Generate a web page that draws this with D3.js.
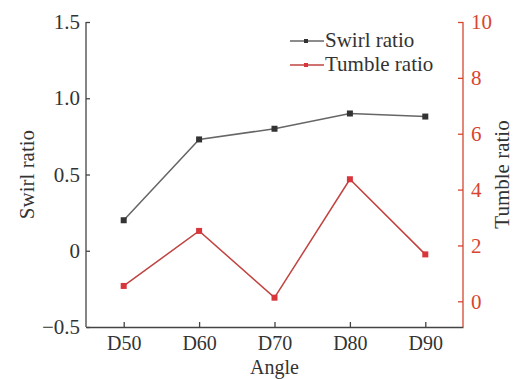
<!DOCTYPE html>
<html><head><meta charset="utf-8">
<script src="https://cdn.jsdelivr.net/npm/d3@7/dist/d3.min.js"></script>
<style>body{margin:0;background:#fff}svg{display:block}</style>
</head><body><svg id="c" width="515" height="379"></svg>
<script>
const categories = ["D50","D60","D70","D80","D90"];
const swirl = [0.20, 0.73, 0.80, 0.90, 0.88];
const tumble = [0.55, 2.52, 0.13, 4.37, 1.68];
const leftTicks = [-0.5, 0, 0.5, 1.0, 1.5];
const leftTickLabels = ["\u22120.5","0","0.5","1.0","1.5"];
const rightTicks = [0,2,4,6,8,10];

const svg = d3.select("#c");
const L = 86, R = 463, T = 22, B = 327;
const font = "'Liberation Serif', 'Times New Roman', serif";
const fs = "21px";
const red = "#d8452f", redLine = "#c0433f", redMark = "#d9363c";

const x = d3.scalePoint().domain(categories).range([L, R]).padding(0.5);
const yL = d3.scaleLinear().domain([-0.5, 1.5]).range([B, T]);
const yR = d3.scaleLinear().domain([-0.92, 10]).range([B, T]);

const gx = svg.append("g").attr("transform", `translate(0,${B})`)
  .call(d3.axisBottom(x).tickSizeInner(-5).tickSizeOuter(0).tickPadding(9));
const gl = svg.append("g").attr("transform", `translate(${L},0)`)
  .call(d3.axisLeft(yL).tickValues(leftTicks).tickFormat((d,i)=>leftTickLabels[i]).tickSizeInner(-4).tickSizeOuter(0).tickPadding(6));
const gr = svg.append("g").attr("transform", `translate(${R},0)`)
  .call(d3.axisRight(yR).tickValues(rightTicks).tickSizeInner(-5).tickSizeOuter(0).tickPadding(8));

[gx, gl].forEach(g => {
  g.selectAll("path,line").attr("stroke", "#444").attr("stroke-width", 1.3);
  g.selectAll("text").attr("fill", "#333").style("font-family", font).style("font-size", fs);
});
gx.selectAll("text").style("font-size", "20px");
gr.selectAll("path,line").attr("stroke", red).attr("stroke-width", 1.3);
gr.selectAll("text").attr("fill", red).style("font-family", font).style("font-size", fs);
gl.select(".domain").attr("d", `M0,${T}V${B}`);
gr.select(".domain").attr("d", `M0,${T}V${B}`);

svg.append("text").attr("transform", `translate(34,${(T+B)/2}) rotate(-90)`)
  .attr("text-anchor","middle").attr("fill","#333").style("font-family",font).style("font-size",fs).text("Swirl ratio");
svg.append("text").attr("transform", `translate(509,${(T+B)/2}) rotate(-90)`)
  .attr("text-anchor","middle").attr("fill","#333").style("font-family",font).style("font-size",fs).text("Tumble ratio");
svg.append("text").attr("x", x("D70")).attr("y", 374)
  .attr("text-anchor","middle").attr("fill","#333").style("font-family",font).style("font-size","20px").text("Angle");

const lineL = d3.line().x((d,i)=>x(categories[i])).y(d=>yL(d));
const lineR = d3.line().x((d,i)=>x(categories[i])).y(d=>yR(d));
svg.append("path").attr("d", lineL(swirl)).attr("fill","none").attr("stroke","#666").attr("stroke-width",1.5);
svg.append("path").attr("d", lineR(tumble)).attr("fill","none").attr("stroke",redLine).attr("stroke-width",1.5);
const ms = 6;
svg.selectAll(".ms").data(swirl).join("rect")
  .attr("x",(d,i)=>x(categories[i])-ms/2).attr("y",d=>yL(d)-ms/2).attr("width",ms).attr("height",ms).attr("fill","#333");
svg.selectAll(".mt").data(tumble).join("rect")
  .attr("x",(d,i)=>x(categories[i])-ms/2).attr("y",d=>yR(d)-ms/2).attr("width",ms).attr("height",ms).attr("fill",redMark);

const leg = [{name:"Swirl ratio", line:"#666", mark:"#333", y:41},{name:"Tumble ratio", line:redLine, mark:redMark, y:65}];
leg.forEach(l => {
  svg.append("line").attr("x1",290).attr("x2",324).attr("y1",l.y).attr("y2",l.y).attr("stroke",l.line).attr("stroke-width",1.5);
  svg.append("rect").attr("x",304).attr("y",l.y-2).attr("width",4).attr("height",4).attr("fill",l.mark);
  svg.append("text").attr("x",325).attr("y",l.y+6).attr("fill","#333").style("font-family",font).style("font-size",fs).text(l.name);
});
</script></body></html>
